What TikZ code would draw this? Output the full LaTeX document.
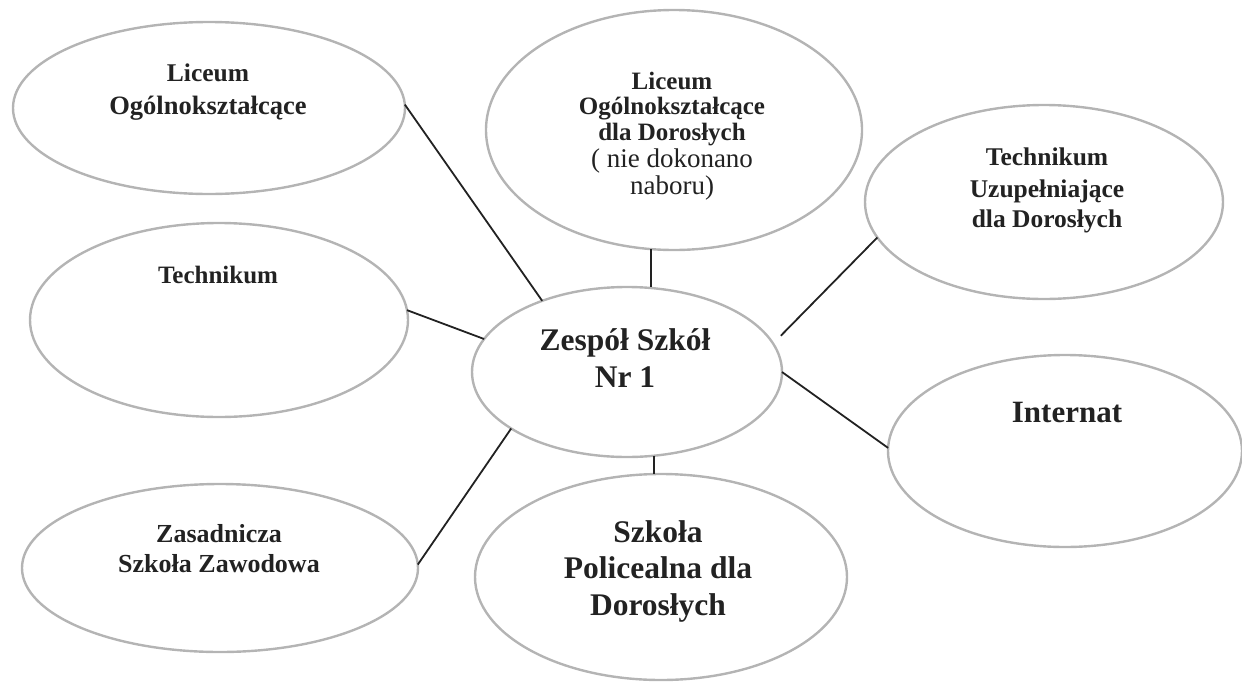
\documentclass[tikz,border=0pt]{standalone}
\usepackage{fontspec}
\setmainfont{Liberation Serif}
\usetikzlibrary{shapes.geometric}
\definecolor{ellgray}{HTML}{B4B4B4}
\definecolor{ink}{HTML}{222222}
\begin{document}
\begin{tikzpicture}[x=1pt,y=-1pt,
  bub/.style={ellipse, draw=ellgray, line width=2.4pt, inner sep=0pt, outer sep=0pt},
  link/.style={draw=ink, line width=1.8pt},
  txt/.style={anchor=base, inner sep=0pt, outer sep=0pt, text=ink},
  bsm/.style={txt, font=\bfseries\fontsize{25.5}{30}\selectfont},
  bbig/.style={txt, font=\bfseries\fontsize{31.5}{36}\selectfont},
  rsm/.style={txt, font=\fontsize{27}{30}\selectfont}
]
\useasboundingbox (0,0) rectangle (1242,683);

% ellipses
\node[bub, minimum width=392pt, minimum height=172pt] (L1) at (209,108) {};
\node[bub, minimum width=376pt, minimum height=240pt] (LD) at (674,130) {};
\node[bub, minimum width=358pt, minimum height=194pt] (TU) at (1044,202) {};
\node[bub, minimum width=378pt, minimum height=194pt] (T)  at (219,320) {};
\node[bub, minimum width=310pt, minimum height=170pt] (C)  at (627,372) {};
\node[bub, minimum width=354pt, minimum height=192pt] (IN) at (1065,451) {};
\node[bub, minimum width=396pt, minimum height=168pt] (Z)  at (220,568) {};
\node[bub, minimum width=372pt, minimum height=206pt] (SP) at (661,577) {};

% texts
\node[bsm] (l1a) at (208,81) {Liceum};
\node[bsm, font=\bfseries\fontsize{26.5}{30}\selectfont] (l1b) at (208,114) {Ogólnokształcące};

\node[bsm, font=\bfseries\fontsize{25}{30}\selectfont] (lda) at (672,89) {Liceum};
\node[bsm, font=\bfseries\fontsize{25}{30}\selectfont] (ldb) at (672,114) {Ogólnokształcące};
\node[bsm, font=\bfseries\fontsize{25}{30}\selectfont] (ldc) at (672,140) {dla Dorosłych};
\node[rsm] (ldd) at (672,167) {( nie dokonano};
\node[rsm] (lde) at (672,194) {naboru)};

\node[bsm] (tua) at (1047,165) {Technikum};
\node[bsm] (tub) at (1047,197) {Uzupełniające};
\node[bsm] (tuc) at (1047,227) {dla Dorosłych};

\node[bsm, font=\bfseries\fontsize{25}{30}\selectfont] (ta) at (218,283) {Technikum};

\node[bbig] (ca) at (625,350) {Zespół Szkół};
\node[bbig] (cb) at (625,387) {Nr 1};

\node[bbig, font=\bfseries\fontsize{31}{36}\selectfont] (ina) at (1067,422) {Internat};

\node[bsm, font=\bfseries\fontsize{26}{30}\selectfont] (za) at (219,542) {Zasadnicza};
\node[bsm, font=\bfseries\fontsize{26}{30}\selectfont] (zb) at (219,572) {Szkoła Zawodowa};

\node[bbig] (spa) at (658,542) {Szkoła};
\node[bbig] (spb) at (658,578) {Policealna dla};
\node[bbig] (spc) at (658,615) {Dorosłych};

% connectors
\draw[link] (L1.1.5) -- (C.140);
\draw[link] (T.3.6) -- (C.167);
\draw[link] (Z.1.5) -- (C.206.6);
\draw[link] (C.288.6) -- (C.288.6 |- SP.north);
\draw[link] (LD.259.6) -- (LD.259.6 |- C.north);
\draw[link, shorten >=11pt] (TU.192.5) -- (C.11.5);
\draw[link] (C.east) -- (IN.179);
\end{tikzpicture}
\end{document}
